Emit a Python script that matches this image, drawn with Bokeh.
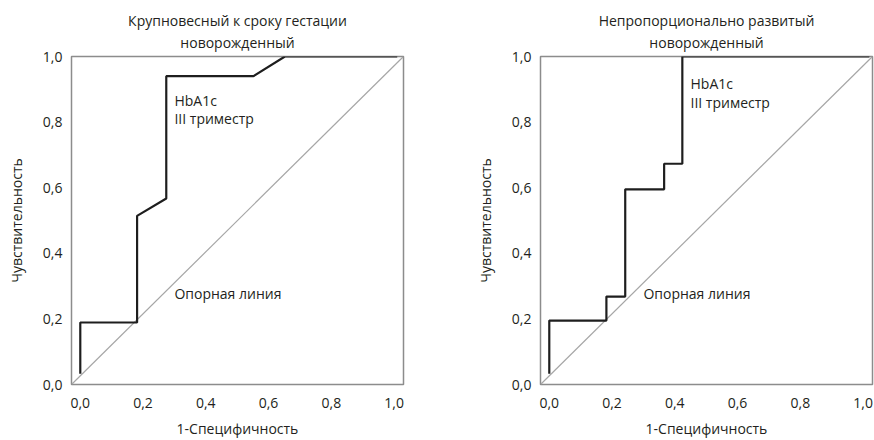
from bokeh.plotting import figure
from bokeh.layouts import row
from bokeh.models import FixedTicker, Label, Range1d, Title
from bokeh.embed import file_html
from bokeh.resources import INLINE

# ---- data -------------------------------------------------------------
tick_values = [0.0, 0.2, 0.4, 0.6, 0.8, 1.0]
tick_labels = ["0,0", "0,2", "0,4", "0,6", "0,8", "1,0"]

# Left panel: large-for-gestational-age newborn, ROC of HbA1c (III trimester)
lga_fpr = [0.0, 0.0, 0.181, 0.181, 0.274, 0.274, 0.552, 0.652, 1.01]
lga_tpr = [0.033, 0.189, 0.189, 0.514, 0.567, 0.94, 0.94, 1.0, 1.0]

# Right panel: disproportionately developed newborn
dis_fpr = [0.0, 0.0, 0.182, 0.182, 0.242, 0.242, 0.366, 0.366, 0.424, 0.424, 1.02]
dis_tpr = [0.033, 0.195, 0.195, 0.268, 0.268, 0.595, 0.595, 0.673, 0.673, 1.0, 1.0]

# reference (chance) line
ref_x = [-0.028, 1.03]
ref_y = [0.0, 1.0]

titles = [("Крупновесный к сроку гестации", "новорожденный"),
          ("Непропорционально развитый", "новорожденный")]
x_title = "1-Специфичность"
y_title = "Чувствительность"
curve_label = ["HbA1c", "III триместр"]
ref_label = "Опорная линия"

FONT = "Open Sans"
TEXT = "#231f20"
FS = "14px"


def make(title, fpr, tpr, width, bl, br, toff, hb_x, hb_y1, hb_y2):
    p = figure(width=width, height=440, output_backend="svg", toolbar_location=None,
               title=None,
               x_range=Range1d(ref_x[0], ref_x[1]), y_range=Range1d(0, 1),
               min_border_left=bl, min_border_right=br,
               min_border_top=56, min_border_bottom=53)
    # first added sits closest to the frame
    for txt, so in ((title[1], 10), (title[0], -8)):
        p.add_layout(Title(text=txt, align="center", offset=toff, standoff=so,
                           text_font=FONT, text_font_size=FS,
                           text_font_style="normal", text_color=TEXT), "above")

    p.grid.visible = False
    p.outline_line_color = "#8c8c8c"
    p.outline_line_width = 1.5
    p.background_fill_color = "white"
    p.border_fill_color = "white"

    for ax in (p.xaxis[0], p.yaxis[0]):
        ax.ticker = FixedTicker(ticks=tick_values)
        ax.major_label_overrides = dict(zip(tick_values, tick_labels))
        ax.axis_line_color = None
        ax.major_tick_line_color = None
        ax.minor_tick_line_color = None
        ax.major_tick_out = 0
        ax.major_tick_in = 0
        ax.major_label_text_font = FONT
        ax.major_label_text_font_size = FS
        ax.major_label_text_color = TEXT
        ax.axis_label_text_font = FONT
        ax.axis_label_text_font_size = FS
        ax.axis_label_text_font_style = "normal"
        ax.axis_label_text_color = TEXT
    p.xaxis.axis_label = x_title
    p.yaxis.axis_label = y_title
    p.xaxis.major_label_standoff = 13
    p.yaxis.major_label_standoff = 9
    p.xaxis.axis_label_standoff = 8
    p.yaxis.axis_label_standoff = 14

    p.line(ref_x, ref_y, line_color="#a6a6a6", line_width=1.2)
    p.line(fpr, tpr, line_color="#1e1e1e", line_width=2.2)

    for txt, yy in zip(curve_label, (hb_y1, hb_y2)):
        p.add_layout(Label(x=hb_x, y=yy, text=txt, text_baseline="middle",
                           text_font=FONT, text_font_size=FS, text_color=TEXT))
    p.add_layout(Label(x=0.30, y=0.278, text=ref_label, text_baseline="middle",
                       text_font=FONT, text_font_size=FS, text_color=TEXT))
    return p


p1 = make(titles[0], lga_fpr, lga_tpr, 470, 71, 67, -8, 0.30, 0.866, 0.81)
p2 = make(titles[1], dis_fpr, dis_tpr, 404, 70, 2, -2, 0.45, 0.917, 0.86)

layout = row(p1, p2)
open("out.html", "w").write(file_html(layout, INLINE))
